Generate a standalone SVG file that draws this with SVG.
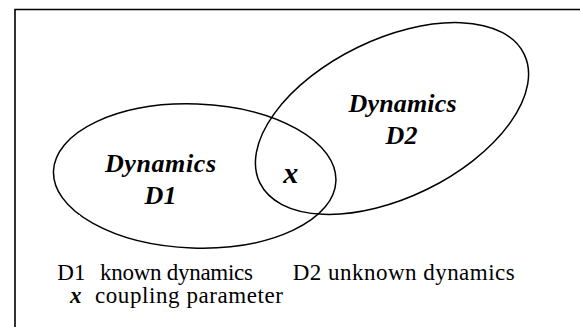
<svg xmlns="http://www.w3.org/2000/svg" width="580" height="327" viewBox="0 0 580 327">
<style>
.ell{fill:none;stroke:#000;stroke-width:1.5}
text{font-family:'Liberation Serif','Times New Roman','DejaVu Serif',serif;fill:#000}
.lab{font-weight:bold;font-style:italic;font-size:26px;text-anchor:middle}
.leg{font-size:23px}
.var{font-weight:bold;font-style:italic}
</style>
<rect width="580" height="327" fill="#fff"/>
<path d="M15,327 V9.5 H580" fill="none" stroke="#000" stroke-width="1.6"/>
<g id="connectors"></g>
<g id="D1">
<ellipse class="ell" cx="194.7" cy="176" rx="141.3" ry="72" transform="rotate(2 194.7 176)"/>
<rect x="77" y="215" width="3" height="3" fill="#fff"/>
<text class="lab" x="160.5" y="171.7" textLength="111">Dynamics</text>
<text class="lab" x="160.5" y="204">D1</text>
</g>
<g id="D2">
<ellipse class="ell" cx="392" cy="118.5" rx="147" ry="79" transform="rotate(-26 392 118.5)"/>
<text class="lab" x="402.5" y="111.7" textLength="108">Dynamics</text>
<text class="lab" x="401.5" y="144">D2</text>
</g>
<g id="coupling">
<text class="var" x="283.3" y="182.7" font-size="30">x</text>
</g>
<g id="legend">
<text class="leg" x="57.3" y="279.5">D1</text>
<text class="leg" x="100" y="279.5" textLength="153">known dynamics</text>
<text class="leg" x="292.7" y="279.5" textLength="222">D2 unknown dynamics</text>
<text class="var" x="70" y="303" font-size="23">x</text>
<text class="leg" x="95" y="303" textLength="188">coupling parameter</text>
</g>
</svg>
